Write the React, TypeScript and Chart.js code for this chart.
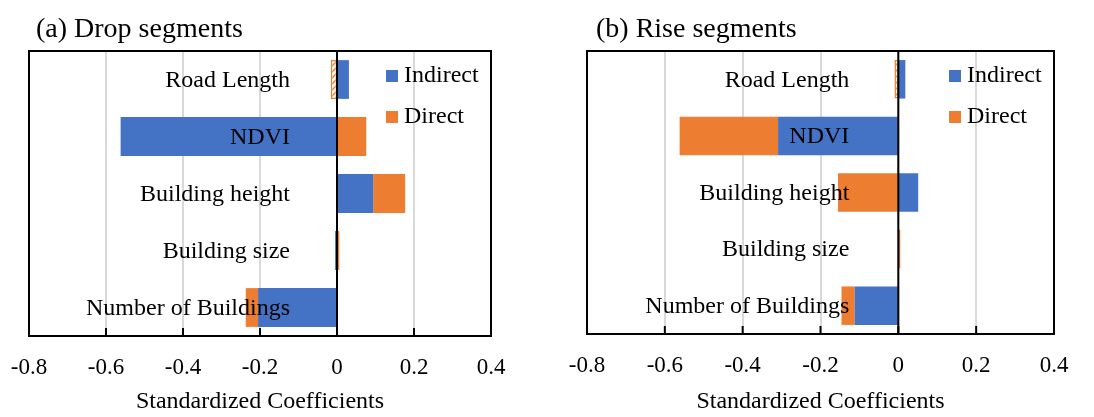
import { useEffect, useRef } from 'react';
import { Chart, registerables } from 'chart.js';

Chart.register(...registerables);

// Categories, top to bottom
const categories = ['Road Length', 'NDVI', 'Building height', 'Building size', 'Number of Buildings'];

// Series names and colours
const seriesNames = ['Indirect', 'Direct'];
const seriesColors = ['#4472C4', '#ED7D31'];

// (a) Drop segments
const dropIndirect = [0.031, -0.562, 0.094, -0.005, -0.205];
const dropDirect = [-0.016, 0.076, 0.083, 0.006, -0.032];

// (b) Rise segments
const riseIndirect = [0.018, -0.309, 0.051, 0, -0.112];
const riseDirect = [-0.01, -0.253, -0.155, 0.005, -0.034];

// Which Direct bars are drawn hatched (non-significant)
const dropHatched = [true, false, false, false, false];
const riseHatched = [true, false, false, false, false];

// Horizontal axis
const axisMin = -0.8;
const axisMax = 0.4;
const axisStep = 0.2;
const axisTitle = 'Standardized Coefficients';

const FONT = "'Liberation Serif', 'Times New Roman', serif";
const GRID = '#D9D9D9';
const INK = '#000000';

function makeHatch(color: string): CanvasPattern | string {
  const c = document.createElement('canvas');
  c.width = 6;
  c.height = 6;
  const g = c.getContext('2d');
  if (!g) return color;
  g.fillStyle = '#ffffff';
  g.fillRect(0, 0, 6, 6);
  g.strokeStyle = color;
  g.lineWidth = 1.5;
  g.beginPath();
  g.moveTo(0, 6);
  g.lineTo(6, 0);
  g.moveTo(-1, 1);
  g.lineTo(1, -1);
  g.moveTo(5, 7);
  g.lineTo(7, 5);
  g.stroke();
  return g.createPattern(c, 'repeat') || color;
}

type PanelProps = {
  title: string;
  titleX: number;
  indirect: number[];
  direct: number[];
  hatched: boolean[];
  left: number;
  width: number;
  padLeft: number;
  padRight: number;
  plotBottom: number;
  labelGap: number;
};

const HEIGHT = 417;
const PLOT_TOP = 51;

function Panel(props: PanelProps) {
  const ref = useRef<HTMLCanvasElement | null>(null);

  useEffect(() => {
    const canvas = ref.current;
    if (!canvas) return;
    const hatch = makeHatch(seriesColors[1]);

    const decor = {
      id: 'panelDecor',
      afterDatasetsDraw(chart: any) {
        const { ctx, chartArea: a, scales } = chart;
        const x = scales.x;
        const y = scales.y;
        const x0 = x.getPixelForValue(0);
        ctx.save();

        // vertical axis at zero
        ctx.strokeStyle = INK;
        ctx.lineWidth = 2;
        ctx.beginPath();
        ctx.moveTo(x0, a.top);
        ctx.lineTo(x0, a.bottom);
        ctx.stroke();

        // category labels beside the zero axis
        ctx.fillStyle = INK;
        ctx.font = `24px ${FONT}`;
        ctx.textAlign = 'right';
        ctx.textBaseline = 'middle';
        categories.forEach((c, i) => {
          ctx.fillText(c, x0 - props.labelGap, y.getPixelForValue(i) + 1);
        });

        // plot frame
        ctx.strokeRect(a.left, a.top, a.right - a.left, a.bottom - a.top);

        // tick marks pointing inward from the bottom edge
        x.ticks.forEach((t: any) => {
          const px = x.getPixelForValue(t.value);
          ctx.beginPath();
          ctx.moveTo(px, a.bottom);
          ctx.lineTo(px, a.bottom - 8);
          ctx.stroke();
        });

        // legend inside the plot
        const lx = a.right - 105;
        const rows = [a.top + 25, a.top + 66];
        seriesNames.forEach((name, i) => {
          ctx.fillStyle = seriesColors[i];
          ctx.fillRect(lx, rows[i] - 6, 12, 12);
          ctx.fillStyle = INK;
          ctx.font = `24px ${FONT}`;
          ctx.textAlign = 'left';
          ctx.textBaseline = 'middle';
          ctx.fillText(name, lx + 18, rows[i]);
        });

        // panel title
        ctx.font = `28px ${FONT}`;
        ctx.textAlign = 'left';
        ctx.textBaseline = 'middle';
        ctx.fillText(props.title, props.titleX, 30);

        ctx.restore();
      },
    };

    const chart = new Chart(canvas, {
      type: 'bar',
      data: {
        labels: categories,
        datasets: [
          {
            label: seriesNames[0],
            data: props.indirect,
            backgroundColor: seriesColors[0],
            borderWidth: 0,
          },
          {
            label: seriesNames[1],
            data: props.direct,
            backgroundColor: props.hatched.map((h) => (h ? hatch : seriesColors[1])),
            borderColor: seriesColors[1],
            borderWidth: props.hatched.map((h) => (h ? 1.5 : 0)),
            borderSkipped: false,
          },
        ],
      },
      options: {
        indexAxis: 'y',
        responsive: false,
        animation: false,
        events: [],
        categoryPercentage: 1,
        barPercentage: 0.68,
        layout: {
          padding: { left: props.padLeft, right: props.padRight, top: PLOT_TOP, bottom: 0 },
        },
        plugins: {
          legend: { display: false },
          title: { display: false },
          tooltip: { enabled: false },
        },
        scales: {
          x: {
            type: 'linear',
            stacked: true,
            min: axisMin,
            max: axisMax,
            afterFit: (scale: any) => {
              scale.height = HEIGHT - props.plotBottom;
            },
            ticks: {
              stepSize: axisStep,
              padding: 18,
              color: INK,
              font: { family: FONT, size: 23 },
              callback: (v: any) => {
                const n = Number(v);
                return Math.abs(n) < 1e-9 ? '0' : n.toFixed(1);
              },
            },
            grid: { color: GRID, lineWidth: 2, drawTicks: false },
            border: { display: false },
            title: {
              display: true,
              text: axisTitle,
              color: INK,
              font: { family: FONT, size: 24 },
              padding: { top: 0, bottom: 1 },
            },
          },
          y: {
            type: 'category',
            stacked: true,
            display: false,
          },
        },
      },
      plugins: [decor],
    } as any);

    return () => chart.destroy();
  }, []);

  return (
    <canvas
      ref={ref}
      width={props.width}
      height={HEIGHT}
      style={{ position: 'absolute', left: props.left, top: 0, width: props.width, height: HEIGHT }}
    />
  );
}

export default function App() {
  return (
    <div style={{ position: 'absolute', left: 0, top: 0, width: 1094, height: HEIGHT, background: '#ffffff', overflow: 'hidden' }}>
      <Panel
        title="(a) Drop segments"
        titleX={46}
        indirect={dropIndirect}
        direct={dropDirect}
        hatched={dropHatched}
        left={-10}
        width={557}
        padLeft={39}
        padRight={56}
        plotBottom={336}
        labelGap={47}
      />
      <Panel
        title="(b) Rise segments"
        titleX={49}
        indirect={riseIndirect}
        direct={riseDirect}
        hatched={riseHatched}
        left={547}
        width={547}
        padLeft={40}
        padRight={40}
        plotBottom={334}
        labelGap={49}
      />
    </div>
  );
}
